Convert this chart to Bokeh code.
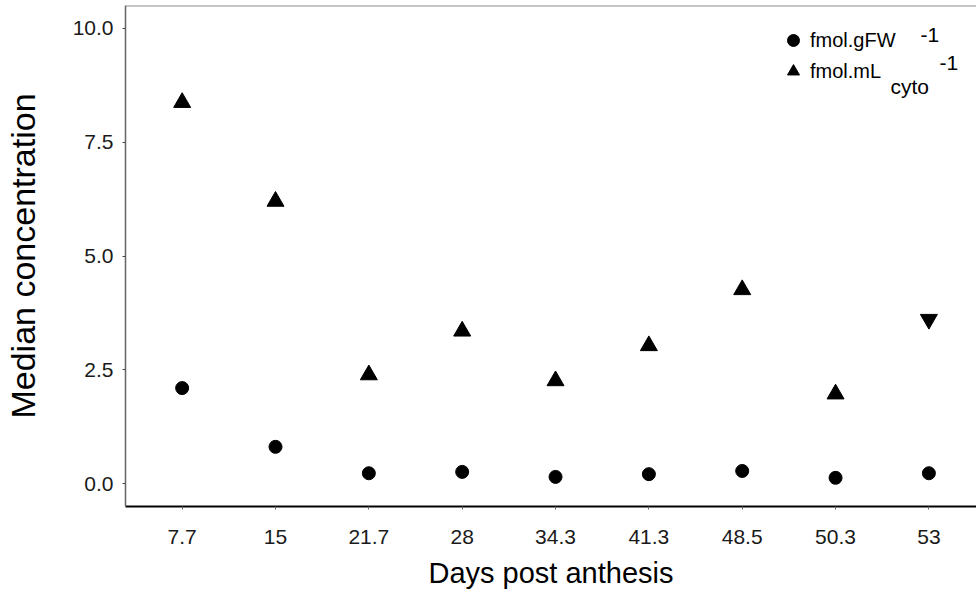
from bokeh.plotting import figure
from bokeh.models import (ColumnDataSource, Range1d, FixedTicker, PrintfTickFormatter,
                          Legend, LegendItem, Label, Span)
from bokeh.embed import file_html
from bokeh.resources import INLINE

# ---- data ----
days = ["7.7", "15", "21.7", "28", "34.3", "41.3", "48.5", "50.3", "53"]
fmol_gfw = [2.10, 0.81, 0.23, 0.26, 0.15, 0.21, 0.28, 0.13, 0.23]
fmol_ml_cyto = [8.37, 6.20, 2.39, 3.35, 2.26, 3.03, 4.26, 1.97, 3.61]
cyto_markers = ["triangle"] * 8 + ["inverted_triangle"]
y_ticks = [0.0, 2.5, 5.0, 7.5, 10.0]

FONT = "Liberation Sans"
pos = list(range(len(days)))
X0, X1 = -0.607, 8.51
Y0, Y1 = -0.5, 10.5

W, H = 976, 598
LEFT, TOP, BOTTOM = 125, 5, 92
FW, FH = W - LEFT, H - TOP - BOTTOM

p = figure(width=W, height=H, x_range=Range1d(X0, X1), y_range=Range1d(Y0, Y1),
           output_backend="svg", toolbar_location=None,
           min_border_left=LEFT, min_border_right=0, min_border_top=TOP,
           min_border_bottom=BOTTOM)
p.xgrid.visible = False
p.ygrid.visible = False
p.outline_line_color = None
p.background_fill_color = "white"
p.border_fill_color = "white"

# x axis
p.xaxis.ticker = FixedTicker(ticks=pos)
p.xaxis.major_label_overrides = {i: d for i, d in enumerate(days)}
p.xaxis.minor_tick_line_color = None
p.xaxis.major_tick_in = 0
p.xaxis.major_tick_out = 3
p.xaxis.major_tick_line_color = "#666666"
p.xaxis.axis_line_color = "black"
p.xaxis.axis_line_width = 2
p.xaxis.major_label_text_font = FONT
p.xaxis.major_label_text_font_size = "21px"
p.xaxis.major_label_text_color = "#1a1a1a"
p.xaxis.major_label_standoff = 20
p.xaxis.axis_label = "Days post anthesis"
p.xaxis.axis_label_text_font = FONT
p.xaxis.axis_label_text_font_style = "normal"
p.xaxis.axis_label_text_font_size = "29px"
p.xaxis.axis_label_text_color = "black"
p.xaxis.axis_label_standoff = 10

# y axis
p.yaxis.ticker = FixedTicker(ticks=y_ticks)
p.yaxis.formatter = PrintfTickFormatter(format="%.1f")
p.yaxis.minor_tick_line_color = None
p.yaxis.major_tick_in = 0
p.yaxis.major_tick_out = 3
p.yaxis.major_tick_line_color = "#444444"
p.yaxis.axis_line_color = "#666666"
p.yaxis.axis_line_width = 1.5
p.yaxis.major_label_text_font = FONT
p.yaxis.major_label_text_font_size = "21px"
p.yaxis.major_label_text_color = "#1a1a1a"
p.yaxis.major_label_standoff = 9
p.yaxis.axis_label = "Median concentration"
p.yaxis.axis_label_text_font = FONT
p.yaxis.axis_label_text_font_style = "normal"
p.yaxis.axis_label_text_font_size = "34px"
p.yaxis.axis_label_text_color = "black"
p.yaxis.axis_label_standoff = 28

# top border
p.add_layout(Span(location=Y1, dimension="width", line_color="#8c8c8c", line_width=2))

# data
src1 = ColumnDataSource(dict(x=pos, y=fmol_gfw))
r1 = p.scatter("x", "y", source=src1, marker="circle", size=13,
               fill_color="black", line_color="black")
src2 = ColumnDataSource(dict(x=pos, y=fmol_ml_cyto, m=cyto_markers))
r2 = p.scatter("x", "y", source=src2, marker="m", size=17,
               fill_color="black", line_color="black")

# legend
legend = Legend(items=[LegendItem(label="fmol.gFW", renderers=[r1]),
                       LegendItem(label="fmol.mL", renderers=[r2])],
                location=(653, 420), glyph_width=30, glyph_height=30,
                spacing=1, padding=0, margin=0, label_standoff=2,
                border_line_color=None, background_fill_alpha=0,
                label_text_font=FONT, label_text_font_size="20px",
                label_text_color="black")
p.add_layout(legend)


def dx(px):
    return X0 + (px - LEFT) / FW * (X1 - X0)


def dy(py):
    return Y1 - (py - TOP) / FH * (Y1 - Y0)


for txt, px, py, fs in [("-1", 920, 34, "21px"),
                        ("cyto", 890, 85.5, "21px"),
                        ("-1", 939, 62.5, "21px")]:
    p.add_layout(Label(x=dx(px), y=dy(py), text=txt, text_font=FONT,
                       text_font_size=fs, text_color="black",
                       text_baseline="alphabetic", text_align="left"))

open("out.html", "w").write(file_html(p, INLINE))
